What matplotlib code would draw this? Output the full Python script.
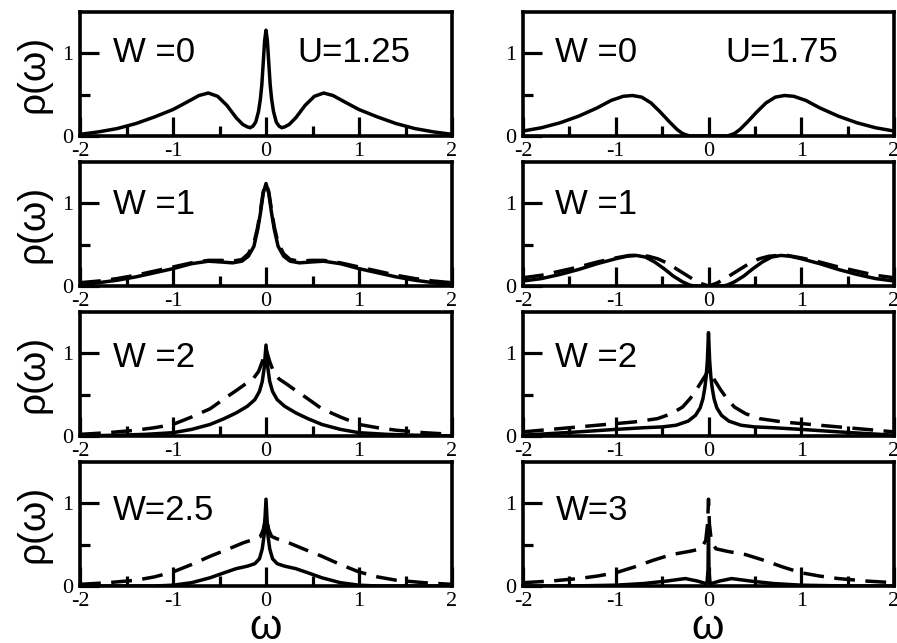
import matplotlib.pyplot as plt

plt.rcParams['axes.unicode_minus'] = False

# spectral functions, U = 1.25 (left column)
u125_w0_x = [-2.0, -1.8, -1.6, -1.4, -1.2, -1.0, -0.85, -0.72, -0.62, -0.52, -0.42, -0.32, -0.25, -0.2, -0.17,
             -0.14, -0.11, -0.08, -0.06, -0.045, -0.03, -0.015, 0.0,
             0.015, 0.03, 0.045, 0.06, 0.08, 0.11, 0.14, 0.17, 0.2, 0.25, 0.32, 0.42, 0.52, 0.62, 0.72, 0.85,
             1.0, 1.2, 1.4, 1.6, 1.8, 2.0]
u125_w0_y = [0.02, 0.05, 0.09, 0.15, 0.23, 0.32, 0.41, 0.49, 0.52, 0.48, 0.37, 0.22, 0.14, 0.11, 0.10,
             0.12, 0.17, 0.30, 0.45, 0.62, 0.88, 1.15, 1.28,
             1.15, 0.88, 0.62, 0.45, 0.30, 0.17, 0.12, 0.10, 0.11, 0.14, 0.22, 0.37, 0.48, 0.52, 0.49, 0.41,
             0.32, 0.23, 0.15, 0.09, 0.05, 0.02]

u125_w1_x = [-2.0, -1.8, -1.6, -1.4, -1.2, -1.0, -0.8, -0.62, -0.48, -0.36, -0.26, -0.19, -0.13, -0.09, -0.06,
             -0.03, 0.0, 0.03, 0.06, 0.09, 0.13, 0.19, 0.26, 0.36, 0.48, 0.62, 0.8, 1.0, 1.2, 1.4, 1.6, 1.8, 2.0]
u125_w1_solid = [0.02, 0.04, 0.07, 0.11, 0.16, 0.21, 0.27, 0.30, 0.29, 0.28, 0.30, 0.36, 0.48, 0.68, 0.88,
                 1.12, 1.24, 1.12, 0.88, 0.68, 0.48, 0.36, 0.30, 0.28, 0.29, 0.30, 0.27, 0.21, 0.16, 0.11, 0.07,
                 0.04, 0.02]
u125_w1_dash = [0.04, 0.06, 0.09, 0.13, 0.18, 0.23, 0.28, 0.31, 0.31, 0.30, 0.32, 0.39, 0.52, 0.71, 0.91,
                1.14, 1.24, 1.14, 0.91, 0.71, 0.52, 0.39, 0.32, 0.30, 0.31, 0.31, 0.28, 0.23, 0.18, 0.13, 0.09,
                0.06, 0.04]

u125_w2_sx = [-2.0, -1.6, -1.3, -1.0, -0.8, -0.6, -0.45, -0.32, -0.2, -0.12, -0.07, -0.04, -0.02, 0.0,
              0.02, 0.04, 0.07, 0.12, 0.2, 0.32, 0.45, 0.6, 0.8, 1.0, 1.3, 1.6, 2.0]
u125_w2_solid = [0.0, 0.01, 0.02, 0.04, 0.08, 0.14, 0.21, 0.28, 0.36, 0.44, 0.54, 0.66, 0.82, 1.10,
                 0.82, 0.66, 0.54, 0.44, 0.36, 0.28, 0.21, 0.14, 0.08, 0.04, 0.02, 0.01, 0.0]
u125_w2_dx = [-2.0, -1.7, -1.4, -1.2, -1.0, -0.8, -0.6, -0.45, -0.32, -0.22, -0.14, -0.08, -0.04, 0.0,
              0.04, 0.08, 0.14, 0.22, 0.32, 0.45, 0.6, 0.8, 1.0, 1.2, 1.4, 1.7, 2.0]
u125_w2_dash = [0.02, 0.04, 0.07, 0.10, 0.14, 0.23, 0.33, 0.45, 0.55, 0.63, 0.69, 0.78, 0.90, 1.05,
                0.90, 0.78, 0.69, 0.63, 0.55, 0.45, 0.33, 0.23, 0.14, 0.10, 0.07, 0.04, 0.02]

u125_w25_sx = [-2.0, -1.5, -1.2, -1.0, -0.8, -0.6, -0.45, -0.32, -0.2, -0.12, -0.07, -0.04, -0.02, 0.0,
               0.02, 0.04, 0.07, 0.12, 0.2, 0.32, 0.45, 0.6, 0.8, 1.0, 1.2, 1.5, 2.0]
u125_w25_solid = [0.0, 0.0, 0.0, 0.01, 0.04, 0.10, 0.16, 0.21, 0.24, 0.27, 0.33, 0.45, 0.62, 1.05,
                  0.62, 0.45, 0.33, 0.27, 0.24, 0.21, 0.16, 0.10, 0.04, 0.01, 0.0, 0.0, 0.0]
u125_w25_dx = [-2.0, -1.7, -1.4, -1.2, -1.0, -0.8, -0.6, -0.4, -0.25, -0.12, -0.06, -0.03, 0.0,
               0.03, 0.06, 0.12, 0.25, 0.4, 0.6, 0.8, 1.0, 1.2, 1.4, 1.7, 2.0]
u125_w25_dash = [0.02, 0.04, 0.07, 0.11, 0.17, 0.26, 0.36, 0.45, 0.52, 0.57, 0.60, 0.68, 0.85,
                 0.68, 0.60, 0.57, 0.52, 0.45, 0.36, 0.26, 0.17, 0.11, 0.07, 0.04, 0.02]

# spectral functions, U = 1.75 (right column)
u175_w0_x = [-2.0, -1.8, -1.6, -1.4, -1.2, -1.05, -0.92, -0.82, -0.72, -0.62, -0.52, -0.42, -0.34, -0.28,
             -0.23, -0.2, -0.1, 0.0, 0.1, 0.2, 0.23, 0.28, 0.34, 0.42, 0.52, 0.62, 0.72, 0.82, 0.92, 1.05,
             1.2, 1.4, 1.6, 1.8, 2.0]
u175_w0_y = [0.06, 0.10, 0.16, 0.24, 0.34, 0.43, 0.48, 0.49, 0.47, 0.40, 0.29, 0.17, 0.08, 0.03,
             0.01, 0.0, 0.0, 0.0, 0.0, 0.0, 0.01, 0.03, 0.08, 0.17, 0.29, 0.40, 0.47, 0.49, 0.48, 0.43,
             0.34, 0.24, 0.16, 0.10, 0.06]

u175_w1_sx = [-2.0, -1.8, -1.6, -1.4, -1.2, -1.0, -0.88, -0.78, -0.68, -0.58, -0.48, -0.38, -0.28, -0.2,
              -0.15, -0.1, 0.0, 0.1, 0.15, 0.2, 0.28, 0.38, 0.48, 0.58, 0.68, 0.78, 0.88, 1.0, 1.2, 1.4,
              1.6, 1.8, 2.0]
u175_w1_solid = [0.06, 0.09, 0.14, 0.20, 0.27, 0.33, 0.36, 0.37, 0.35, 0.29, 0.21, 0.12, 0.05, 0.01,
                 0.0, 0.0, 0.0, 0.0, 0.0, 0.01, 0.05, 0.12, 0.21, 0.29, 0.35, 0.37, 0.36, 0.33, 0.27, 0.20,
                 0.14, 0.09, 0.06]
u175_w1_dx = [-2.0, -1.8, -1.6, -1.4, -1.2, -1.0, -0.85, -0.75, -0.65, -0.55, -0.45, -0.35, -0.25, -0.15,
              -0.08, 0.0, 0.08, 0.15, 0.25, 0.35, 0.45, 0.55, 0.65, 0.75, 0.85, 1.0, 1.2, 1.4, 1.6, 1.8, 2.0]
u175_w1_dash = [0.10, 0.13, 0.18, 0.23, 0.29, 0.34, 0.37, 0.37, 0.36, 0.33, 0.28, 0.21, 0.14, 0.07,
                0.03, 0.0, 0.03, 0.07, 0.14, 0.21, 0.28, 0.33, 0.36, 0.37, 0.37, 0.34, 0.29, 0.23, 0.18,
                0.13, 0.10]

u175_w2_sx = [-2.0, -1.7, -1.4, -1.0, -0.7, -0.5, -0.35, -0.22, -0.14, -0.09, -0.06, -0.04, -0.025,
              -0.012, 0.0, 0.012, 0.025, 0.04, 0.06, 0.09, 0.14, 0.22, 0.35, 0.5, 0.7, 1.0, 1.4, 1.7, 2.0]
u175_w2_solid = [0.01, 0.03, 0.05, 0.08, 0.10, 0.11, 0.13, 0.18, 0.25, 0.34, 0.45, 0.58, 0.72,
                 0.92, 1.25, 0.92, 0.72, 0.58, 0.45, 0.34, 0.25, 0.18, 0.13, 0.11, 0.10, 0.08, 0.05,
                 0.03, 0.01]
u175_w2_dx = [-2.0, -1.7, -1.4, -1.1, -0.8, -0.55, -0.4, -0.28, -0.2, -0.13, -0.08, -0.04, 0.0,
              0.04, 0.08, 0.13, 0.2, 0.28, 0.4, 0.55, 0.8, 1.1, 1.4, 1.7, 2.0]
u175_w2_dash = [0.05, 0.08, 0.11, 0.14, 0.17, 0.21, 0.27, 0.35, 0.45, 0.56, 0.65, 0.72, 0.80,
                0.72, 0.65, 0.56, 0.45, 0.35, 0.27, 0.21, 0.17, 0.14, 0.11, 0.08, 0.05]

u175_w3_sx = [-2.0, -1.5, -1.0, -0.7, -0.45, -0.25, -0.12, -0.06, -0.03, -0.015, -0.005, 0.0,
              0.005, 0.015, 0.03, 0.06, 0.12, 0.25, 0.45, 0.7, 1.0, 1.5, 2.0]
u175_w3_solid = [0.0, 0.0, 0.01, 0.03, 0.06, 0.09, 0.06, 0.04, 0.03, 0.05, 0.20, 0.72,
                 0.20, 0.05, 0.03, 0.04, 0.06, 0.09, 0.06, 0.03, 0.01, 0.0, 0.0]
u175_w3_dx = [-2.0, -1.7, -1.4, -1.2, -1.0, -0.8, -0.6, -0.4, -0.2, -0.08, -0.03, -0.01, 0.0,
              0.01, 0.03, 0.08, 0.2, 0.4, 0.6, 0.8, 1.0, 1.2, 1.4, 1.7, 2.0]
u175_w3_dash = [0.04, 0.06, 0.09, 0.12, 0.16, 0.23, 0.31, 0.38, 0.42, 0.45, 0.55, 0.75, 1.05,
                0.75, 0.55, 0.45, 0.42, 0.38, 0.31, 0.23, 0.16, 0.12, 0.09, 0.06, 0.04]

w_labels = [['W =0', 'W =0'], ['W =1', 'W =1'], ['W =2', 'W =2'], ['W=2.5', 'W=3']]
u_labels = ['U=1.25', 'U=1.75']

# (solid x, solid y, dashed x, dashed y) for each panel
panels = [
    [(u125_w0_x, u125_w0_y, None, None), (u175_w0_x, u175_w0_y, None, None)],
    [(u125_w1_x, u125_w1_solid, u125_w1_x, u125_w1_dash), (u175_w1_sx, u175_w1_solid, u175_w1_dx, u175_w1_dash)],
    [(u125_w2_sx, u125_w2_solid, u125_w2_dx, u125_w2_dash), (u175_w2_sx, u175_w2_solid, u175_w2_dx, u175_w2_dash)],
    [(u125_w25_sx, u125_w25_solid, u125_w25_dx, u125_w25_dash), (u175_w3_sx, u175_w3_solid, u175_w3_dx, u175_w3_dash)],
]

W_PX, H_PX = 897.0, 643.0
col_left = [80, 523]
col_width = [372, 371]
row_top = [12, 162, 312, 462]
row_height = 124
label_y = [0.89, 0.87, 0.83, 0.80]

fig = plt.figure(figsize=(8.97, 6.43), dpi=100)

for r in range(4):
    for c in range(2):
        ax = fig.add_axes([col_left[c] / W_PX, 1 - (row_top[r] + row_height) / H_PX,
                           col_width[c] / W_PX, row_height / H_PX])
        sx, sy, dx, dy = panels[r][c]
        ax.plot(sx, sy, color='black', lw=2.5, solid_joinstyle='round')
        if dx is not None:
            ax.plot(dx, dy, color='black', lw=2.5, dashes=(6, 3))
        ax.set_xlim(-2, 2)
        ax.set_ylim(0, 1.5)
        ax.set_xticks([-2, -1, 0, 1, 2])
        ax.set_xticks([-1.5, -0.5, 0.5, 1.5], minor=True)
        ax.set_yticks([0, 1])
        ax.set_yticks([0.5], minor=True)
        ax.set_xticklabels(['-2', '-1', '0', '1', '2'], family='Liberation Serif', fontsize=16)
        ax.set_yticklabels(['0', '1'], family='Liberation Serif', fontsize=16)
        ax.tick_params(which='both', direction='in', width=2.3, top=False, right=False)
        ax.tick_params(which='major', length=14)
        ax.tick_params(which='minor', length=7)
        ax.tick_params(axis='x', pad=4)
        ax.tick_params(axis='y', pad=5)
        for sp in ax.spines.values():
            sp.set_linewidth(2.6)

        ax.text(-1.65, label_y[r], w_labels[r][c], family='Liberation Sans', fontsize=25,
                ha='left', va='baseline')
        if r == 0:
            ax.text([0.34, 0.18][c], label_y[r], u_labels[c], family='Liberation Sans',
                    fontsize=25, ha='left', va='baseline')

    fig.text(33 / W_PX, 1 - (row_top[r] + row_height / 2) / H_PX, 'ρ(ω)', family='Liberation Sans',
             fontsize=28, rotation=90, ha='center', va='center')

for xc in [266, 708]:
    fig.text(xc / W_PX, 4 / H_PX, 'ω', family='Liberation Sans', fontsize=30,
             ha='center', va='baseline')

fig.savefig('out.png', dpi=100)
